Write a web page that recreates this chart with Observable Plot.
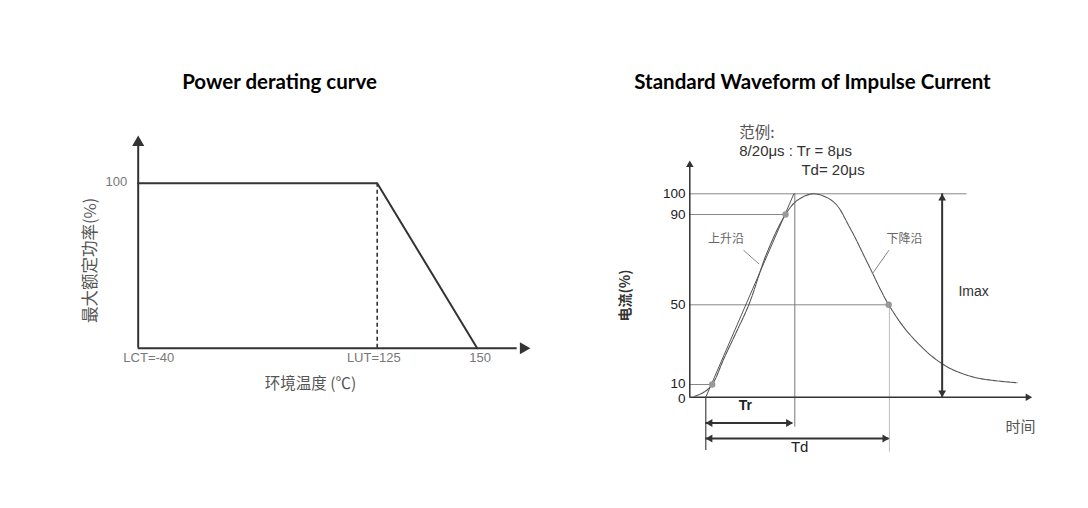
<!DOCTYPE html>
<html><head><meta charset="utf-8">
<script src="https://cdn.jsdelivr.net/npm/d3@7"></script>
<script src="https://cdn.jsdelivr.net/npm/@observablehq/plot@0.6"></script>
<style>
body{margin:0;background:#fff;}
#wrap{position:relative;width:1088px;height:508px;overflow:hidden;background:#fff;}
.title{position:absolute;top:68.5px;font-family:Lato,"Open Sans",sans-serif;font-weight:bold;font-size:20.5px;color:#000;white-space:nowrap;transform:translateX(-50%);line-height:24px;}
#left,#right{position:absolute;top:0;}
#left{left:0}#right{left:544px}
</style></head><body>
<div id="wrap">
<div class="title" style="left:279.5px">Power derating curve</div>
<div class="title" style="left:812.5px">Standard Waveform of Impulse Current</div>
<div id="left"></div><div id="right"></div>
</div>
<script>
// ---------- data: power derating ----------
const deratingTemp = [-40, 125, 150];
const deratingPower = [100, 100, 0];
const tempTicks = [-40, 125, 150];
const tempTickLabels = ["LCT=-40", "LUT=125", "150"];
const powerTicks = [100];

// ---------- data: impulse current waveform ----------
const waveTime =    [1.4, 4.0, 6.54, 9.93, 13.5, 17.23, 22.6, 27.95, 31.37, 36.2, 42.06, 46.9, 51.8, 58.1, 64.5, 73.7, 82.9, 95.6];
const waveCurrent = [0.8, 3.7, 10,   22.9, 36,   50,    73.3, 90,    96.8,  100,  96,    83.7, 68.9, 50,   34.6, 20.4, 13.7, 10.9];
const currentTicks = [0, 10, 50, 90, 100];
const frontTime = [4.67, 30.4];
const frontCurrent = [0, 100];
const markTime = [6.54, 27.95, 58.1];
const markCurrent = [10, 90, 50];
const refLevels = [100, 90, 50, 10];
const refEnds = [81, 27.95, 58.1, 6.54];
const originTime = 4.67, trTime = 30.67, tdTime = 58.3, imaxTime = 73.7;

const SANS = "'Liberation Sans', Arial, sans-serif";
const CJK = "'Noto Sans CJK SC', sans-serif";
const tri = (x, y, rot, dx, dy, r, fill) =>
  Plot.dot([{x, y}], {x: "x", y: "y", symbol: "triangle", r, fill, stroke: "none", rotate: rot, dx, dy});

// ---------- left chart ----------
const deratingData = deratingTemp.map((t, i) => ({t, p: deratingPower[i]}));
const lc = "#333";
const tickOffsets = [10.6, -3.4, 3];
const left = Plot.plot({
  width: 544, height: 508, margin: 0,
  x: {type: "linear", domain: [-40, 125, 150], range: [137.7, 376.7, 476.7], axis: null},
  y: {type: "linear", domain: [0, 100], range: [347.7, 182.7], axis: null},
  style: {fontFamily: SANS, background: "transparent", overflow: "visible"},
  marks: [
    Plot.ruleX([-40], {y1: 0, y2: 125, stroke: lc, strokeWidth: 2}),
    Plot.ruleY([0], {x1: -40, x2: 160, stroke: lc, strokeWidth: 2}),
    tri(-40, 128.9, 0, 0, 7, 4.5, lc),
    tri(163.3, 0, 90, -7, 0, 4.5, lc),
    Plot.ruleX([125], {y1: 0, y2: 100, stroke: lc, strokeWidth: 1.6, strokeDasharray: "4,3"}),
    Plot.line(deratingData, {x: "t", y: "p", stroke: lc, strokeWidth: 2}),
    ...tempTicks.map((t, i) => Plot.text([t], {x: d => d, y: 0, text: () => tempTickLabels[i], dx: tickOffsets[i], dy: 9.6, fontSize: 13, fill: "#777"})),
    Plot.text(powerTicks, {x: -40, y: d => d, text: d => String(d), textAnchor: "end", dx: -11, dy: -1.5, fontSize: 13, fill: "#777"}),
    Plot.text(["最大额定功率(%)"], {x: -40, y: 53.2, text: d => d, rotate: -90, dx: -47.7, fontSize: 16.5, fill: "#555", fontFamily: CJK}),
    Plot.text(["环境温度 (℃)"], {x: 79, y: 0, text: d => d, dy: 35.6, fontSize: 15.5, fill: "#555", fontFamily: CJK})
  ]
});
document.getElementById("left").appendChild(left);

// ---------- right chart ----------
const waveData = waveTime.map((t, i) => ({t, c: waveCurrent[i]}));
const frontData = frontTime.map((t, i) => ({t, c: frontCurrent[i]}));
const markData = markTime.map((t, i) => ({t, c: markCurrent[i]}));
const refData = refLevels.map((c, i) => ({c, t2: refEnds[i]}));
const rc = "#333";
const tickNudge = {0: 1, 10: -1, 50: 0, 90: 0, 100: 0};
const right = Plot.plot({
  width: 544, height: 508, margin: 0,
  x: {type: "linear", domain: [0, 100], range: [145.3, 487.7], axis: null},
  y: {type: "linear", domain: [0, 10, 50, 90, 100], range: [396.7, 384, 304.3, 214, 193.3], axis: null},
  style: {fontFamily: SANS, background: "transparent", overflow: "visible"},
  marks: [
    // reference lines
    Plot.ruleY(refData, {y: "c", x1: 0, x2: "t2", stroke: "#888", strokeWidth: 1}),
    Plot.ruleX([trTime], {x: d => d, y1: 100, y2: -23.6, stroke: "#777", strokeWidth: 1}),
    Plot.ruleX([tdTime], {x: d => d, y1: 50, y2: -43.3, stroke: "#bbb", strokeWidth: 1}),
    Plot.ruleX([originTime], {x: d => d, y1: 0, y2: -42, stroke: "#444", strokeWidth: 1.2}),
    // axes
    Plot.ruleX([0], {y1: 0, y2: 113, stroke: rc, strokeWidth: 1.5}),
    Plot.ruleY([0], {x1: 0, x2: 98.5, stroke: rc, strokeWidth: 1.5}),
    tri(0, 116.1, 0, 0, 4.35, 2.8, rc),
    tri(100, 0, 90, -4.35, 0, 2.8, rc),
    // waveform and front line
    Plot.line(frontData, {x: "t", y: "c", stroke: "#555", strokeWidth: 1}),
    Plot.line(waveData, {x: "t", y: "c", curve: "catmull-rom", stroke: "#555", strokeWidth: 1.1, strokeDasharray: "5,1"}),
    Plot.dot(markData, {x: "t", y: "c", r: 3.2, fill: "#999", stroke: "none"}),
    // leader lines
    Plot.line([{t: 15.77, c: 74.05}, {t: 20.15, c: 68.2}], {x: "t", y: "c", stroke: "#888", strokeWidth: 1}),
    Plot.line([{t: 58.1, c: 74.05}, {t: 53.3, c: 63.7}], {x: "t", y: "c", stroke: "#888", strokeWidth: 1}),
    // dimension arrows
    Plot.ruleY([-20.3], {y: d => d, x1: originTime, x2: trTime - 0.6, stroke: rc, strokeWidth: 1.8}),
    tri(originTime, -20.3, -90, 4.35, 0, 2.9, rc),
    tri(trTime - 0.6, -20.3, 90, -4.35, 0, 2.9, rc),
    Plot.ruleY([-32.5], {y: d => d, x1: originTime, x2: tdTime - 0.1, stroke: rc, strokeWidth: 1.8}),
    tri(originTime, -32.5, -90, 4.35, 0, 2.9, rc),
    tri(tdTime - 0.1, -32.5, 90, -4.35, 0, 2.9, rc),
    Plot.ruleX([imaxTime], {x: d => d, y1: 0, y2: 100, stroke: rc, strokeWidth: 2}),
    tri(imaxTime, 100, 0, 0, 4.35, 2.9, rc),
    tri(imaxTime, 0, 180, 0, -4.35, 2.9, rc),
    // tick labels
    ...currentTicks.map(v => Plot.text([v], {x: 0, y: d => d, text: d => String(d), textAnchor: "end", dx: -4.3, dy: tickNudge[v], fontSize: 13.5, fill: "#222"})),
    // labels
    Plot.text(["电流(%)"], {x: 0, y: 54.1, text: d => d, rotate: -90, dx: -64.3, fontSize: 14, fill: "#333", fontWeight: "bold", fontFamily: CJK}),
    Plot.text(["时间"], {x: 96.6, y: 0, text: d => d, dy: 30, fontSize: 15, fill: "#555", fontFamily: CJK}),
    Plot.text(["Tr"], {x: 16.2, y: 0, text: d => d, dy: 8.5, fontSize: 14, fill: "#222", fontWeight: "bold"}),
    Plot.text(["Td"], {x: 32.1, y: 0, text: d => d, dy: 50, fontSize: 15, fill: "#222"}),
    Plot.text(["Imax"], {x: 82.9, y: 55.9, text: d => d, fontSize: 14, fill: "#333"}),
    Plot.text(["上升沿"], {x: 10.6, y: 79.2, text: d => d, fontSize: 12, fill: "#666", fontFamily: CJK}),
    Plot.text(["下降沿"], {x: 62.7, y: 79.2, text: d => d, fontSize: 12, fill: "#666", fontFamily: CJK}),
    Plot.text(["范例:"], {x: 14.45, y: 129.3, text: d => d, textAnchor: "start", fontSize: 15.5, fill: "#555", fontFamily: CJK}),
    Plot.text(["8/20μs : Tr = 8μs"], {x: 14.45, y: 120.6, text: d => d, textAnchor: "start", fontSize: 15, fill: "#333"}),
    Plot.text(["Td= 20μs"], {x: 32.6, y: 111.6, text: d => d, textAnchor: "start", fontSize: 15, fill: "#333"})
  ]
});
document.getElementById("right").appendChild(right);
</script>
</body></html>
